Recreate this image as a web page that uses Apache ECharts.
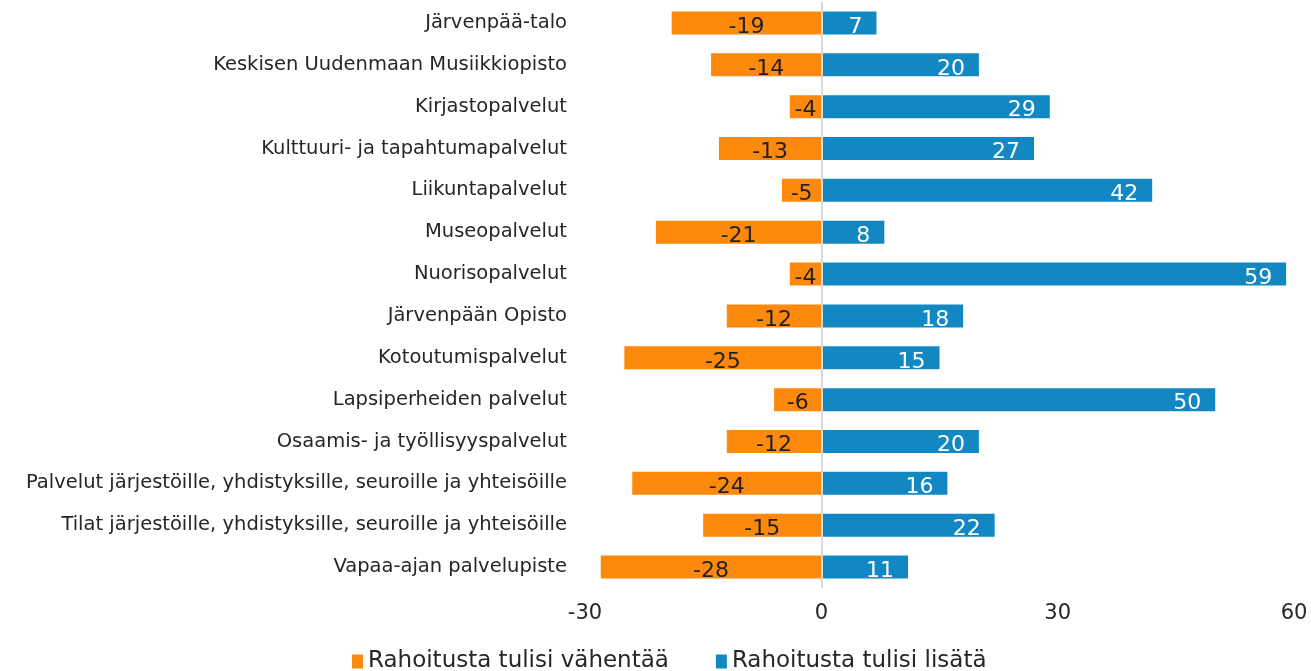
<!DOCTYPE html>
<html>
<head>
<meta charset="utf-8">
<script src="https://cdn.jsdelivr.net/npm/echarts@6/dist/echarts.min.js"></script>
<style>
  html, body { margin: 0; padding: 0; background: #fff; }
  #chart { width: 1311px; height: 671px; }
</style>
</head>
<body>
<div id="chart"></div>
<script>
// palvelut, ylhäältä alas
var categories = [
    'Järvenpää-talo',
    'Keskisen Uudenmaan Musiikkiopisto',
    'Kirjastopalvelut',
    'Kulttuuri- ja tapahtumapalvelut',
    'Liikuntapalvelut',
    'Museopalvelut',
    'Nuorisopalvelut',
    'Järvenpään Opisto',
    'Kotoutumispalvelut',
    'Lapsiperheiden palvelut',
    'Osaamis- ja työllisyyspalvelut',
    'Palvelut järjestöille, yhdistyksille, seuroille ja yhteisöille',
    'Tilat järjestöille, yhdistyksille, seuroille ja yhteisöille',
    'Vapaa-ajan palvelupiste'
];
var vahentaa = [-19, -14, -4, -13, -5, -21, -4, -12, -25, -6, -12, -24, -15, -28];
var lisata = [7, 20, 29, 27, 42, 8, 59, 18, 15, 50, 20, 16, 22, 11];
var seriesNames = ['Rahoitusta tulisi vähentää', 'Rahoitusta tulisi lisätä'];

var font = '"DejaVu Sans", sans-serif';
var textColor = '#262626';

var chart = echarts.init(document.getElementById('chart'));

var option = {
    animation: false,
    textStyle: { fontFamily: font },
    grid: {
        left: 585,
        right: 17,
        top: 2,
        bottom: 83,
        containLabel: false
    },
    legend: {
        bottom: -7,
        left: 347,
        itemWidth: 11,
        itemHeight: 14,
        itemGap: 47,
        icon: 'rect',
        textStyle: { fontSize: 23, color: textColor, fontFamily: font },
        data: seriesNames
    },
    xAxis: {
        type: 'value',
        min: -30,
        max: 60,
        interval: 30,
        axisLine: { show: false },
        axisTick: { show: false },
        splitLine: { show: false },
        axisLabel: { fontSize: 21, color: textColor, margin: 15 }
    },
    yAxis: {
        type: 'category',
        data: categories,
        inverse: true,
        axisLine: { show: false },
        axisTick: { show: false },
        axisLabel: { fontSize: 19.5, color: textColor, margin: 18 }
    },
    series: [{
        name: seriesNames[0],
        type: 'bar',
        stack: 'all',
        data: vahentaa,
        barWidth: 23,
        itemStyle: { color: '#fd890d' },
        label: {
            show: true,
            position: 'inside',
            offset: [0, 4],
            fontSize: 22,
            color: '#222'
        },
        markLine: {
            silent: true,
            symbol: 'none',
            label: { show: false },
            lineStyle: { color: '#d9d9d9', type: 'solid', width: 2 },
            data: [{ xAxis: 0 }]
        }
    }, {
        name: seriesNames[1],
        type: 'bar',
        stack: 'all',
        data: lisata,
        barWidth: 23,
        itemStyle: { color: '#1287c2' },
        label: {
            show: true,
            position: 'insideRight',
            distance: 14,
            offset: [0, 4],
            fontSize: 22,
            color: '#fff'
        }
    }]
};
chart.setOption(option);
</script>
</body>
</html>
